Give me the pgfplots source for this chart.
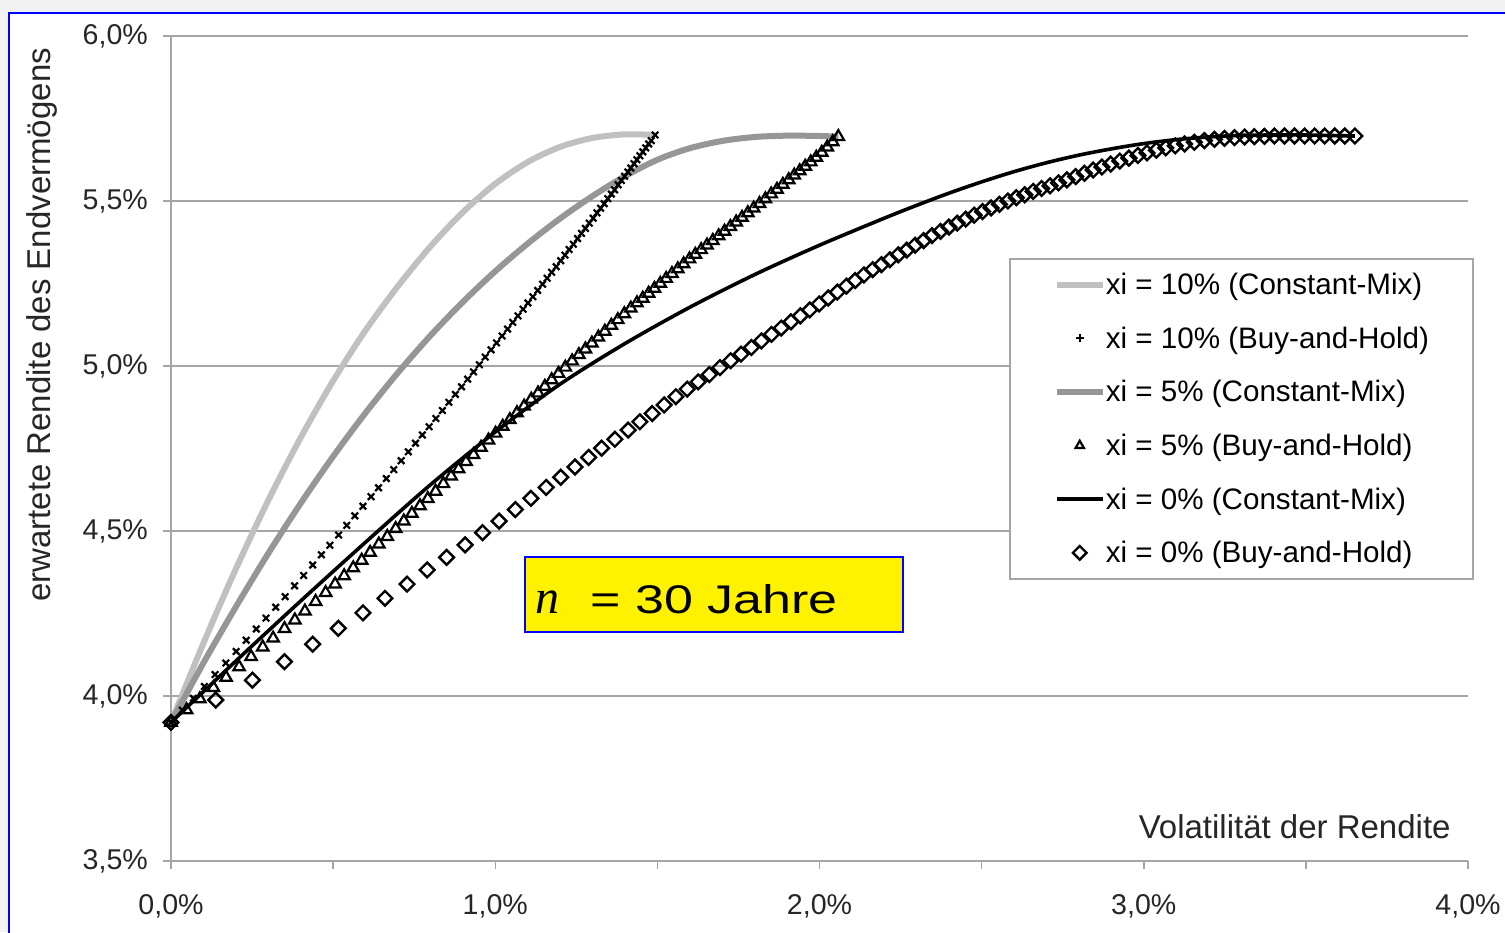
\documentclass[border=0pt]{standalone}
\usepackage{pgfplots}
\pgfplotsset{compat=1.18}
\usepackage{fontspec}
\setmainfont{Liberation Sans}
\newfontfamily\seriffont{Liberation Serif}
\usepackage{graphicx}

\definecolor{cmten}{RGB}{192,192,192}
\definecolor{cmfive}{RGB}{150,150,150}
\definecolor{gridgray}{RGB}{165,165,165}
\definecolor{bgray}{RGB}{242,242,242}
\definecolor{frameblue}{RGB}{0,0,255}

\pgfplotsset{
  lineleg/.style={legend image code/.code={\draw[##1] (0pt,0pt) -- (23pt,0pt); \path[draw=none] (23.5pt,0pt);}},
  markleg/.style={legend image code/.code={\path[draw=none,fill=none] (0pt,0pt) (23.5pt,0pt); \draw[##1,mark size=2.4pt] plot coordinates {(11.5pt,0pt)};}},
  plusleg/.style={legend image code/.code={\path[draw=none,fill=none] (0pt,0pt) (23.5pt,0pt); \draw[black, line width=0.9pt] (9.5pt,0pt) -- (13.5pt,0pt) (11.5pt,-2pt) -- (11.5pt,2pt);}},
}

\begin{document}
\begin{tikzpicture}
\useasboundingbox (0,0) rectangle (752.5pt,-466pt);
\fill[bgray] (0,0) rectangle (752.5pt,-466pt);
\begin{scope}
\clip (0,0) rectangle (752.5pt,-466pt);
\filldraw[fill=white, draw=frameblue, line width=1pt] (4.5pt,-6.5pt) rectangle (760pt,-480pt);
\end{scope}
\begin{axis}[
  at={(85.5pt,-430.5pt)}, anchor=south west,
  scale only axis, width=648.5pt, height=412.5pt,
  xmin=0, xmax=4, ymin=3.5, ymax=6,
  clip=false,
  axis lines=left,
  axis line style={gridgray, line width=0.75pt, -},
  ymajorgrids, grid style={gridgray, line width=0.75pt},
  tick align=outside, major tick length=4pt,
  tick style={gridgray, line width=0.75pt},
  xtick={0,0.5,...,4},
  xticklabels={{0,0\%},{},{1,0\%},{},{2,0\%},{},{3,0\%},{},{4,0\%}},
  ytick={3.5,4,4.5,5,5.5,6},
  yticklabels={{3,5\%},{4,0\%},{4,5\%},{5,0\%},{5,5\%},{6,0\%}},
  tick label style={font=\fontsize{14.3}{16}\selectfont, text=black!85},
  xticklabel style={yshift=-9pt},
  yticklabel style={xshift=-4pt},
  legend cell align=left,
  legend style={at={(0.6461,0.7309)}, anchor=north west, draw=gridgray,
    line width=0.75pt, fill=white,
    font=\fontsize{14.8}{17}\selectfont,
    inner xsep=22pt, inner ysep=6pt, row sep=12.8pt,
    nodes={inner sep=0pt, text height=12pt, text depth=2pt}},
]
% xi = 10% Constant-Mix
\addplot[cmten, line width=3pt, smooth, line join=round, lineleg]
  coordinates {(0,3.92) (0.1,4.16) (0.2,4.385) (0.3,4.593) (0.4,4.783) (0.5,4.955) (0.6,5.108) (0.7,5.242) (0.8,5.362) (0.9,5.466) (1.0,5.552) (1.1,5.618) (1.2,5.664) (1.3,5.691) (1.4,5.702) (1.493,5.70)};
\addlegendentry{xi = 10\% (Constant-Mix)}
% xi = 10% Buy-and-Hold
\addplot[black, only marks, mark=x, mark size=2.3pt, mark options={line width=1.1pt}, plusleg]
  coordinates {
(0,3.920) (0.035,3.957) (0.069,3.993) (0.103,4.029) (0.136,4.065) (0.169,4.100) (0.201,4.135) (0.232,4.169) (0.263,4.203) (0.293,4.236)
(0.323,4.269) (0.352,4.301) (0.381,4.334) (0.409,4.365) (0.437,4.397) (0.464,4.428) (0.490,4.457) (0.517,4.488) (0.542,4.517) (0.567,4.546)
(0.592,4.575) (0.617,4.604) (0.640,4.631) (0.664,4.659) (0.687,4.686) (0.710,4.713) (0.732,4.740) (0.754,4.766) (0.775,4.791) (0.796,4.816)
(0.817,4.841) (0.837,4.865) (0.857,4.890) (0.877,4.914) (0.896,4.937) (0.915,4.960) (0.933,4.982) (0.951,5.004) (0.969,5.027) (0.987,5.049)
(1.004,5.070) (1.021,5.091) (1.038,5.112) (1.054,5.132) (1.070,5.152) (1.086,5.172) (1.101,5.191) (1.116,5.210) (1.131,5.229) (1.146,5.248)
(1.160,5.266) (1.174,5.284) (1.188,5.301) (1.202,5.319) (1.215,5.336) (1.228,5.353) (1.241,5.369) (1.254,5.386) (1.266,5.402) (1.278,5.417)
(1.290,5.433) (1.302,5.448) (1.314,5.464) (1.325,5.478) (1.336,5.492) (1.347,5.507) (1.358,5.521) (1.368,5.534) (1.379,5.549) (1.389,5.562)
(1.399,5.575) (1.409,5.588) (1.418,5.600) (1.428,5.613) (1.437,5.625) (1.446,5.637) (1.455,5.649) (1.464,5.661) (1.473,5.673) (1.481,5.683)
(1.493,5.700)};
\addlegendentry{xi = 10\% (Buy-and-Hold)}
% xi = 5% Constant-Mix
\addplot[cmfive, line width=3pt, smooth, line join=round, lineleg]
  coordinates {(0,3.92) (0.1,4.10) (0.2,4.27) (0.3,4.432) (0.4,4.584) (0.5,4.726) (0.6,4.858) (0.7,4.98) (0.8,5.092) (0.9,5.194) (1.0,5.287) (1.1,5.371) (1.2,5.447) (1.3,5.515) (1.4,5.575) (1.5,5.625) (1.6,5.66) (1.7,5.682) (1.8,5.694) (1.9,5.698) (2.0,5.697) (2.058,5.695)};
\addlegendentry{xi = 5\% (Constant-Mix)}
% xi = 5% Buy-and-Hold
\addplot[black, only marks, mark=triangle, mark size=3.3pt, mark options={line width=1.1pt, fill=none}, markleg]
  coordinates {
(0,3.920) (0.048,3.958) (0.089,3.991) (0.131,4.025) (0.170,4.056) (0.210,4.088) (0.247,4.119) (0.283,4.148) (0.315,4.175) (0.350,4.204)
(0.382,4.230) (0.413,4.257) (0.446,4.286) (0.477,4.313) (0.506,4.339) (0.534,4.364) (0.562,4.388) (0.588,4.411) (0.614,4.435) (0.641,4.460)
(0.667,4.483) (0.693,4.507) (0.718,4.530) (0.743,4.553) (0.768,4.576) (0.792,4.598) (0.816,4.620) (0.840,4.643) (0.864,4.666) (0.887,4.688)
(0.910,4.710) (0.933,4.731) (0.956,4.753) (0.979,4.775) (1.001,4.796) (1.023,4.817) (1.045,4.837) (1.067,4.858) (1.089,4.878) (1.111,4.899)
(1.132,4.918) (1.153,4.938) (1.174,4.958) (1.195,4.977) (1.216,4.996) (1.237,5.015) (1.258,5.034) (1.278,5.051) (1.298,5.069) (1.318,5.087)
(1.338,5.105) (1.358,5.123) (1.378,5.140) (1.398,5.158) (1.418,5.175) (1.437,5.191) (1.455,5.205) (1.473,5.220) (1.491,5.235) (1.509,5.250)
(1.527,5.265) (1.545,5.280) (1.563,5.294) (1.581,5.309) (1.599,5.324) (1.617,5.338) (1.635,5.352) (1.653,5.366) (1.671,5.380) (1.689,5.394)
(1.707,5.408) (1.725,5.422) (1.743,5.436) (1.761,5.450) (1.779,5.464) (1.797,5.478) (1.815,5.492) (1.833,5.506) (1.851,5.521) (1.869,5.535)
(1.887,5.550) (1.905,5.564) (1.922,5.578) (1.939,5.591) (1.956,5.605) (1.973,5.618) (1.990,5.632) (2.007,5.647) (2.024,5.663) (2.041,5.679)
(2.058,5.695)};
\addlegendentry{xi = 5\% (Buy-and-Hold)}
% xi = 0% Constant-Mix
\addplot[black, line width=1.8pt, smooth, line join=round, lineleg]
  coordinates {(0,3.92) (0.2,4.106) (0.4,4.288) (0.6,4.466) (0.8,4.64) (1.0,4.80) (1.2,4.945) (1.4,5.068) (1.6,5.178) (1.8,5.277) (2.0,5.366) (2.2,5.448) (2.3,5.487) (2.4,5.524) (2.5,5.558) (2.6,5.589) (2.7,5.616) (2.8,5.639) (2.9,5.658) (3.0,5.674) (3.1,5.686) (3.2,5.694) (3.3,5.699) (3.4,5.70) (3.5,5.70) (3.651,5.697)};
\addlegendentry{xi = 0\% (Constant-Mix)}
% xi = 0% Buy-and-Hold
\addplot[black, only marks, mark=square, mark size=2.6pt, mark options={rotate=45, line width=1.2pt, fill=none}, markleg]
  coordinates {
(0,3.920) (0.138,3.988) (0.251,4.048) (0.350,4.104) (0.437,4.157) (0.516,4.205) (0.592,4.252) (0.660,4.296) (0.728,4.339) (0.790,4.382)
(0.850,4.420) (0.907,4.458) (0.961,4.495) (1.012,4.530) (1.062,4.565) (1.110,4.599) (1.157,4.632) (1.202,4.663) (1.246,4.694) (1.288,4.723)
(1.328,4.751) (1.369,4.778) (1.410,4.806) (1.446,4.831) (1.484,4.856) (1.521,4.882) (1.557,4.907) (1.592,4.930) (1.626,4.952) (1.660,4.974)
(1.693,4.995) (1.726,5.016) (1.758,5.036) (1.790,5.056) (1.821,5.076) (1.852,5.096) (1.882,5.115) (1.912,5.134) (1.941,5.152) (1.970,5.170)
(1.999,5.188) (2.027,5.206) (2.055,5.224) (2.083,5.242) (2.110,5.259) (2.137,5.276) (2.164,5.292) (2.191,5.307) (2.217,5.322) (2.243,5.337)
(2.269,5.351) (2.295,5.366) (2.321,5.380) (2.347,5.395) (2.373,5.408) (2.399,5.421) (2.425,5.433) (2.451,5.445) (2.477,5.457) (2.503,5.468)
(2.529,5.479) (2.555,5.490) (2.581,5.500) (2.607,5.510) (2.633,5.519) (2.659,5.529) (2.685,5.538) (2.711,5.546) (2.737,5.555) (2.763,5.564)
(2.790,5.574) (2.817,5.584) (2.844,5.594) (2.871,5.603) (2.898,5.612) (2.926,5.621) (2.954,5.630) (2.982,5.638) (3.010,5.646) (3.039,5.654)
(3.068,5.661) (3.097,5.667) (3.126,5.673) (3.156,5.678) (3.187,5.683) (3.218,5.687) (3.249,5.690) (3.280,5.692) (3.311,5.694) (3.341,5.695)
(3.372,5.696) (3.403,5.697) (3.434,5.697) (3.465,5.697) (3.496,5.697) (3.527,5.697) (3.558,5.697) (3.589,5.697) (3.620,5.697) (3.651,5.697)};
\addlegendentry{xi = 0\% (Buy-and-Hold)}
\end{axis}
% axis titles
\node[rotate=90, font=\fontsize{16.5}{19}\selectfont, text=black!85] at (21pt,-162.5pt) {erwartete Rendite des Endvermögens};
\node[anchor=base east, inner sep=0pt, font=\fontsize{16.5}{19}\selectfont, text=black!85] at (725.5pt,-419pt) {Volatilität der Rendite};
% annotation box
\draw[frameblue, fill=yellow, line width=1pt] (262.5pt,-278.5pt) rectangle (451.5pt,-316pt);
\node[anchor=base west, inner sep=0pt, font=\seriffont\itshape\fontsize{24}{28}\selectfont] at (267.5pt,-306.5pt) {n};
\node[anchor=base west, inner sep=0pt, font=\fontsize{20}{24}\selectfont] at (295pt,-306.5pt) {\scalebox{1.3}[1]{= 30 Jahre}};
\end{tikzpicture}
\end{document}
